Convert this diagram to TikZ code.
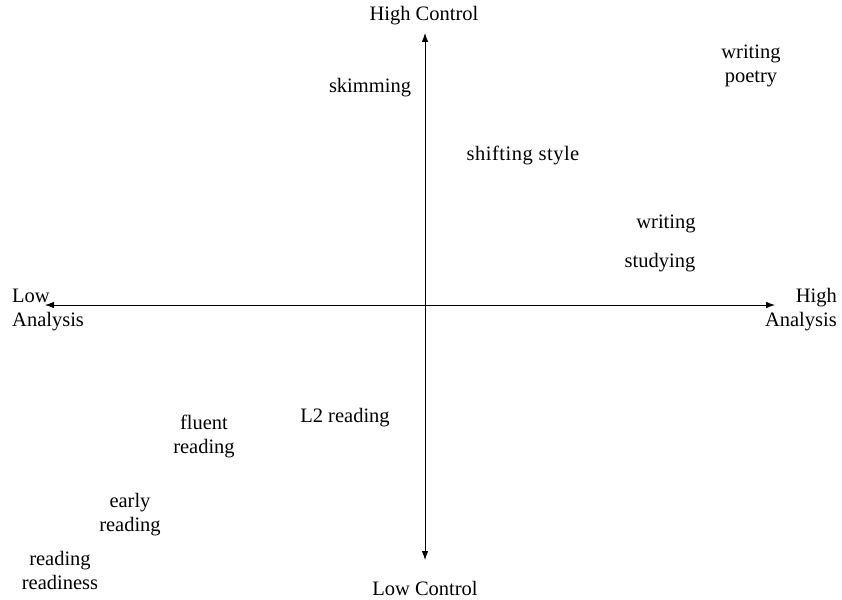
\documentclass[tikz,border=0pt]{standalone}
\usepackage{fontspec}
\setmainfont{Liberation Serif}
\usetikzlibrary{arrows.meta}
\begin{document}
\begin{tikzpicture}[x=1pt,y=-1pt,
  lbl/.style={inner sep=0pt,font=\fontsize{20.5}{24}\selectfont,align=center},
  axis/.style={line width=0.8pt,-{Latex[length=9pt,width=6.5pt]}}]
\useasboundingbox (0,0) rectangle (842,599);
\coordinate (o) at (425,305);
\coordinate (top) at (425,33);
\coordinate (bot) at (425,560);
\coordinate (lft) at (45,305);
\coordinate (rgt) at (775,305);
\draw[axis] (o) -- (top);
\draw[axis] (o) -- (bot);
\draw[axis] (o) -- (lft);
\draw[axis] (o) -- (rgt);
\node[lbl] (hc) at (424,16) {High Control};
\node[lbl] (lc) at (425,588) {Low Control};
\node[lbl,align=left,anchor=west] (la) at (12,310) {Low\\Analysis};
\node[lbl,align=right,anchor=east] (ha) at (837,310) {High\\Analysis};
\node[lbl] (sk) at (370,88) {skimming};
\node[lbl] (ss) at (523,155) {\addfontfeature{LetterSpace=2.5}shifting style};
\node[lbl] (wp) at (751,66) {writing\\poetry};
\node[lbl] (wr) at (666,224) {writing};
\node[lbl] (st) at (660,263) {studying};
\node[lbl] (l2) at (345,418) {L2 reading};
\node[lbl] (fr) at (204,436) {fluent\\reading};
\node[lbl] (er) at (130,515) {early\\reading};
\node[lbl] (rr) at (60,570) {reading\\readiness};
\end{tikzpicture}
\end{document}
